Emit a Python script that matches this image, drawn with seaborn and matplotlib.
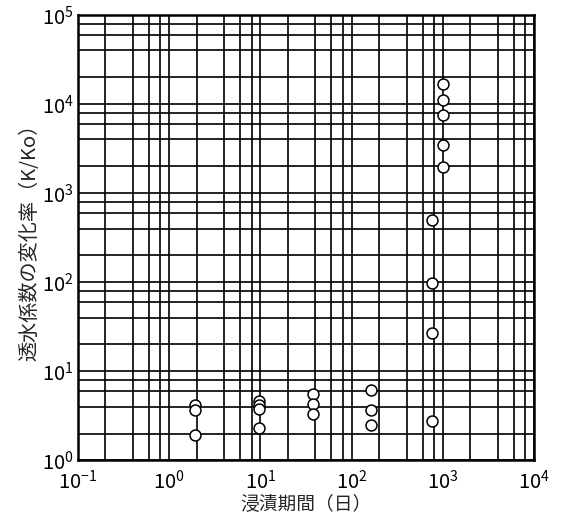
import numpy as np
import pandas as pd
import seaborn as sns
import matplotlib.pyplot as plt
from matplotlib.ticker import LogLocator, NullFormatter

# immersion period (days) and permeability change ratio K/Ko
days = [1.9, 1.9, 1.9,
        9.6, 9.6, 9.6, 9.6,
        38, 38, 38,
        165, 165, 165,
        760, 760, 760, 760,
        1000, 1000, 1000, 1000, 1000]
ratio = [4.2, 3.7, 1.95,
         4.7, 4.2, 3.8, 2.3,
         5.5, 4.3, 3.35,
         6.2, 3.7, 2.5,
         2.8, 27, 99, 500,
         1950, 3450, 7600, 11000, 16600]

df = pd.DataFrame({'days': days, 'ratio': ratio})

sns.set_style('white')
plt.rcParams['font.family'] = ['Noto Sans CJK JP', 'DejaVu Sans']
plt.rcParams['mathtext.fontset'] = 'stix'

fig = plt.figure(figsize=(5.61, 5.15), dpi=100)
ax = fig.add_axes([0.139, 0.106, 0.813, 0.865])

ax.set_xscale('log')
ax.set_yscale('log')
ax.set_xlim(1e-1, 1e4)
ax.set_ylim(1e0, 1e5)

# grid: majors at decades, minors at 2,4,6,8
ax.xaxis.set_major_locator(LogLocator(base=10, numticks=10))
ax.yaxis.set_major_locator(LogLocator(base=10, numticks=10))
ax.xaxis.set_minor_locator(LogLocator(base=10, subs=[2, 4, 6, 8], numticks=20))
ax.yaxis.set_minor_locator(LogLocator(base=10, subs=[2, 4, 6, 8], numticks=20))
ax.xaxis.set_minor_formatter(NullFormatter())
ax.yaxis.set_minor_formatter(NullFormatter())
ax.grid(True, which='both', color='black', linewidth=1.2)
ax.set_axisbelow(True)

sns.scatterplot(data=df, x='days', y='ratio', ax=ax, marker='o', s=62,
                facecolor='white', edgecolor='black', linewidth=1.1, zorder=3)

for sp in ax.spines.values():
    sp.set_color('black')
    sp.set_linewidth(1.8)

ax.tick_params(which='both', length=0, labelsize=14.5, colors='black')
ax.tick_params(axis='x', pad=7)
ax.tick_params(axis='y', pad=3)
ax.set_xlabel('浸漬期間（日）', fontsize=13.5, labelpad=-1)
ax.set_ylabel('透水係数の変化率（K/Ko）', fontsize=14.5, labelpad=1)

fig.savefig('out.png', dpi=100)
